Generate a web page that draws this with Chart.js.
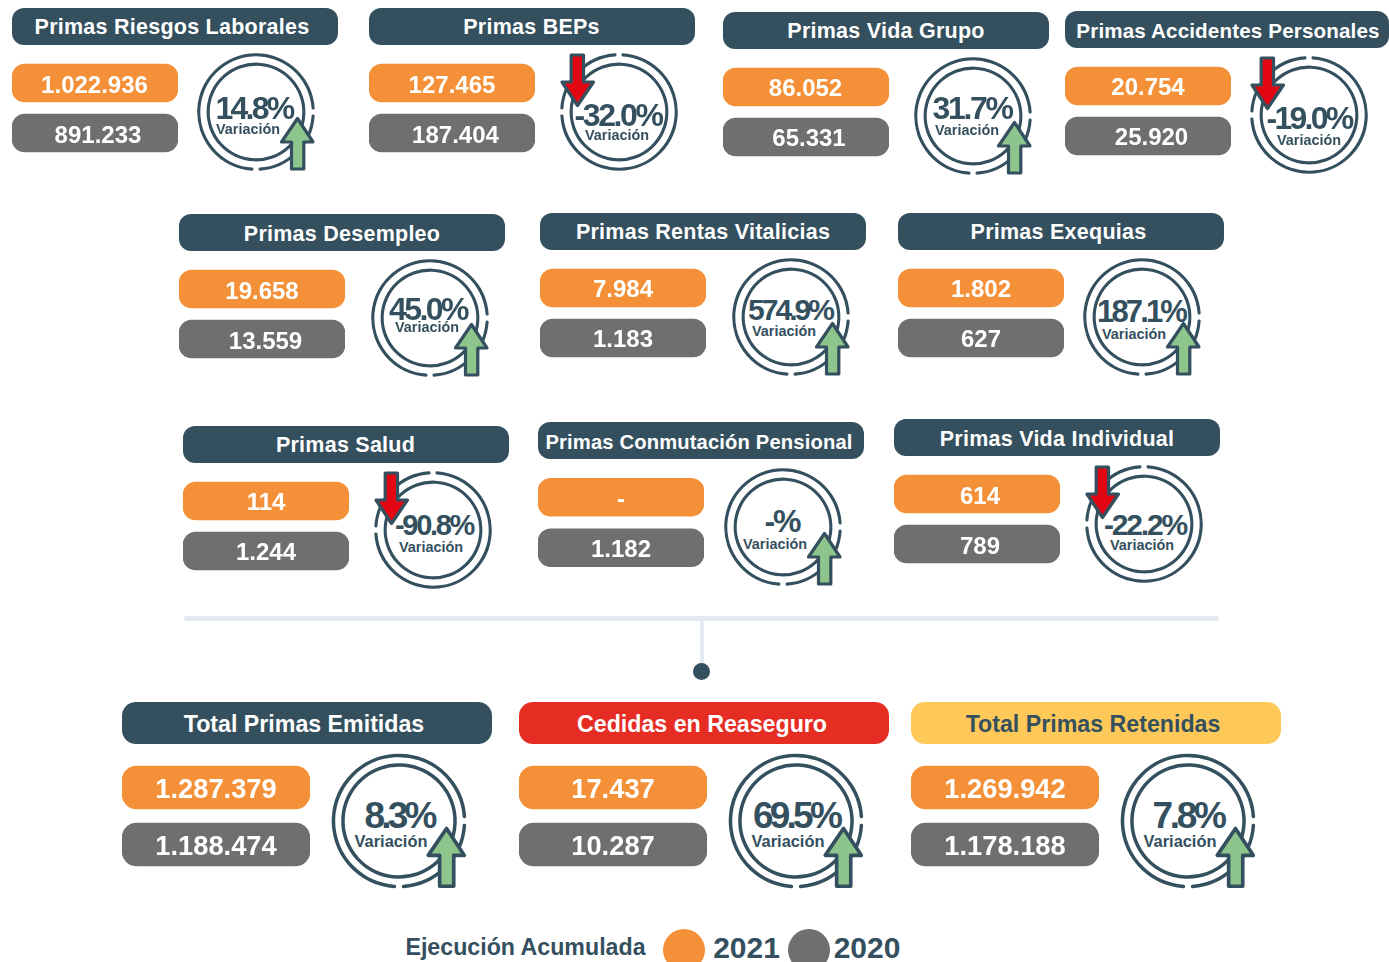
<!DOCTYPE html>
<html lang="es"><head><meta charset="utf-8"><title>Ejecución Acumulada</title>
<script src="https://cdn.jsdelivr.net/npm/chart.js@4"></script>
<style>
html,body{margin:0;padding:0;width:1389px;height:962px;overflow:hidden;background:#fff;font-family:"Liberation Sans",Arial,sans-serif;font-weight:700}
.abs{position:absolute}
.t{position:absolute;transform:translate(-50%,-50%);white-space:nowrap;line-height:1}
canvas{position:absolute;display:block}
</style></head><body>
<script>
// ---- data ----
const categories = ["Primas Riesgos Laborales","Primas BEPs","Primas Vida Grupo","Primas Accidentes Personales","Primas Desempleo","Primas Rentas Vitalicias","Primas Exequias","Primas Salud","Primas Conmutación Pensional","Primas Vida Individual","Total Primas Emitidas","Cedidas en Reaseguro","Total Primas Retenidas"];
const values2021 = [1022936,127465,86052,20754,19658,7984,1802,114,null,614,1287379,17437,1269942];
const values2020 = [891233,187404,65331,25920,13559,1183,627,1244,1182,789,1188474,10287,1178188];
const variation = ["14.8%","-32.0%","31.7%","-19.0%","45.0%","574.9%","187.1%","-90.8%","-%","-22.2%","8.3%","69.5%","7.8%"];
const years = ["2021","2020"];
const legendTitle = "Ejecución Acumulada";
const ringArcs = [85,5,265,5];

// ---- layout (separate from the data) ----
const DARK="#34505E",ORANGE="#F49138",GRAY="#6F6F6F",RED="#E62D24",YEL="#FFC95A",GREEN="#8EC58C",ARROWRED="#E30613";
const L=[
{x:11.5,y:8,w:326,h:37,pw:166,p:83,s:50,rx:255.5,ry:112,tx:172,l1:94.5,l2:98,cx:254,cy:108,vx:248,vy:129,f:32,tw:77},
{x:369,y:8,w:326,h:37,pw:166,p:83,s:50,rx:619,ry:112,tx:531.5,l1:452,l2:455.5,cx:618,cy:115,vx:617,vy:135,f:32,tw:87},
{x:723,y:12,w:326,h:36.5,pw:166,p:86.5,s:50,rx:973,ry:116,tx:886,l1:805.5,l2:809,cx:972,cy:108,vx:967,vy:130,f:32,tw:79},
{x:1065,y:11,w:324,h:36.5,pw:166,p:85.5,s:50,rx:1309,ry:114.5,tx:1228,l1:1148,l2:1151.5,cx:1309,cy:118,vx:1309,vy:140,f:32,tw:85,ts:20.6},
{x:179,y:214,w:326,h:37,pw:166,p:289,s:50,rx:429.5,ry:318,tx:342,ty:1,l1:262,l2:265.5,cx:428,cy:309,vx:427,vy:327,f:32,tw:78},
{x:540,y:213,w:326,h:37,pw:166,p:287.5,s:50,rx:790.5,ry:317,tx:703,l1:623,l2:623,cx:790,cy:310,vx:784,vy:331,f:30,tw:84},
{x:898,y:213,w:326,h:37,pw:166,p:287.5,s:50,rx:1141.5,ry:317,tx:1058.5,l1:981,l2:981,cx:1141,cy:311,vx:1134,vy:334,f:31,tw:88},
{x:183,y:426,w:326,h:37,pw:166,p:500.5,s:50,rx:432.5,ry:530,tx:345.5,l1:266,l2:266,cx:434,cy:525,vx:431,vy:547,f:29,tw:78},
{x:538,y:422,w:326,h:37,pw:166,p:497,s:50.5,rx:782.5,ry:527,tx:699,l1:621,l2:621,cx:782,cy:521,vx:775,vy:544,f:32,tw:35},
{x:894,y:419,w:326,h:37,pw:166,p:494,s:50,rx:1143.5,ry:524,tx:1057,ty:1,l1:980,l2:980,cx:1145,cy:525,vx:1142,vy:545,f:30,tw:82},
{x:122,y:702,w:370,h:42,pw:188,p:787.5,s:57,rx:399,ry:821,tx:304,l1:216,l2:216,cx:399,cy:815,vx:391,vy:841,f:37,tw:69,big:1},
{x:519,y:702,w:370,h:42,pw:188,p:787.5,s:57,rx:796,ry:821,tx:702,l1:613,l2:613,cx:796,cy:815,vx:788,vy:841,f:37,tw:86,big:1},
{x:911,y:702,w:370,h:42,pw:188,p:787.5,s:57,rx:1188,ry:821,tx:1093,l1:1005,l2:1005,cx:1188,cy:815,vx:1180,vy:841,f:37,tw:71,big:1}
];
const fmt=v=>v===null?"-":String(v).replace(/\B(?=(\d{3})+(?!\d))/g,".");
function text(s,x,y,size,color,ls,z){const d=document.createElement("div");d.className="t";d.textContent=s;
 d.style.cssText=`left:${x}px;top:${y}px;font-size:${size}px;color:${color};letter-spacing:${ls||0}px;z-index:${z||3}`;document.body.appendChild(d);return d;}
function box(x,y,w,h,c,r,z){const d=document.createElement("div");d.className="abs";
 d.style.cssText=`left:${x}px;top:${y}px;width:${w}px;height:${h}px;background:${c};border-radius:${r}px;z-index:${z||1}`;document.body.appendChild(d);return d;}
function canvas(x,y,w,h,z){const wrap=document.createElement("div");wrap.className="abs";
 wrap.style.cssText=`left:${x}px;top:${y}px;width:${w}px;height:${h}px;z-index:${z}`;
 const c=document.createElement("canvas");wrap.appendChild(c);document.body.appendChild(wrap);return c;}
const mctx=document.createElement("canvas").getContext("2d");
function fitLS(s,size,target){mctx.font=`700 ${size}px "Liberation Sans"`;return (target-mctx.measureText(s).width)/s.length;}

const arrowPlugin={id:"arrow",afterDatasetsDraw(chart,args,o){
 const m=chart.getDatasetMeta(0).data[0];if(!m)return;const c=chart.ctx;const k=o.k;
 c.save();c.translate(m.x,m.y);c.scale(k,k);if(o.down)c.rotate(Math.PI);
 c.beginPath();c.moveTo(41.5,6.5);c.lineTo(57,30);c.lineTo(47.8,30);c.lineTo(47.8,57);c.lineTo(35.5,57);c.lineTo(35.5,30);c.lineTo(25.5,30);c.closePath();
 c.fillStyle=o.fill;c.fill();c.lineJoin="round";c.lineWidth=3.2;c.strokeStyle=DARK;c.stroke();c.restore();}};

Chart.defaults.animation=false;
Chart.defaults.responsive=false;

categories.forEach((name,i)=>{
 const g=L[i],big=!!g.big,down=variation[i].startsWith("-")&&variation[i]!=="-%";
 const hc=i===11?RED:i===12?YEL:DARK, tc=i===12?DARK:"#fff";
 box(g.x,g.y,g.w,g.h,hc,big?14:12);
 const ts=g.ts||(big?23.2:(name.length>27?20.2:21.5));
 text(name,g.tx,g.y+g.h/2+1.5+(g.ty||0),ts,tc,big?0:(name.length>27?0.15:0.25));

 // the two value pills: one horizontal bar per year, each on its own value axis
 const bh=big?43:38, ph=g.s*2, top=g.p-g.s/2;
 const pc=canvas(g.x,top,g.pw,ph,2);pc.width=g.pw;pc.height=ph;
 const a21=values2021[i]??values2020[i], a20=values2020[i];
 new Chart(pc,{type:"bar",data:{labels:years,datasets:[
   {data:[a21,null],xAxisID:"x21",backgroundColor:ORANGE,barThickness:bh,borderRadius:big?15:13,borderSkipped:false},
   {data:[null,a20],xAxisID:"x20",backgroundColor:GRAY,barThickness:bh,borderRadius:big?15:13,borderSkipped:false}]},
  options:{indexAxis:"y",maintainAspectRatio:false,layout:{padding:0},plugins:{legend:{display:false},tooltip:{enabled:false}},
   scales:{y:{display:false,stacked:false},x21:{display:false,min:0,max:a21,position:"top"},x20:{display:false,min:0,max:a20}},
   datasets:{bar:{grouped:false}}}});
 const vs=big?27.3:24;
 text(fmt(values2021[i]),g.l1,g.p+1.8,vs,"#fff",0);
 text(fmt(values2020[i]),g.l2,g.p+g.s+1.8,vs,"#fff",0);

 // ring + arrow
 const S=big?170:150;
 const rc=canvas(g.rx-S/2,g.ry-S/2,S,S,4);rc.width=S;rc.height=S;
 const sw=big?3.5:3.1,R=big?67.3:58.8,gap=big?6:6.3;
 new Chart(rc,{type:"doughnut",plugins:[arrowPlugin],data:{datasets:[
   {data:ringArcs,backgroundColor:[DARK,"rgba(0,0,0,0)",DARK,"rgba(0,0,0,0)"],borderWidth:0,weight:sw,borderRadius:1.4},
   {data:[1],backgroundColor:["rgba(0,0,0,0)"],borderWidth:0,weight:gap},
   {data:[1],backgroundColor:[DARK],borderWidth:0,weight:sw}]},
  options:{radius:R,cutout:((R-sw*2-gap)/R*100)+"%",rotation:down?272.5:92.5,maintainAspectRatio:false,layout:{padding:0},
   plugins:{legend:{display:false},tooltip:{enabled:false},arrow:{k:big?1.145:1,down,fill:down?ARROWRED:GREEN}}}});
 text(variation[i],g.cx,g.cy,g.f,DARK,fitLS(variation[i],g.f,g.tw));
 text("Variación",g.vx,g.vy,big?16.4:14.4,DARK,0);
});

// connector
box(184,616,1035,4.5,"#E4E8F1",2);
box(699.5,618,4.5,48,"#E4E8F1",0);
box(692.5,662.5,17.5,17.5,DARK,9);
// legend
text(legendTitle,525.5,947.5,23.2,DARK,0);
box(663,929,42,42,ORANGE,21);
text(years[0],746.5,947.5,30,DARK,0);
box(788,929,42,42,GRAY,21);
text(years[1],867,947.5,30,DARK,0);
</script>
</body></html>
